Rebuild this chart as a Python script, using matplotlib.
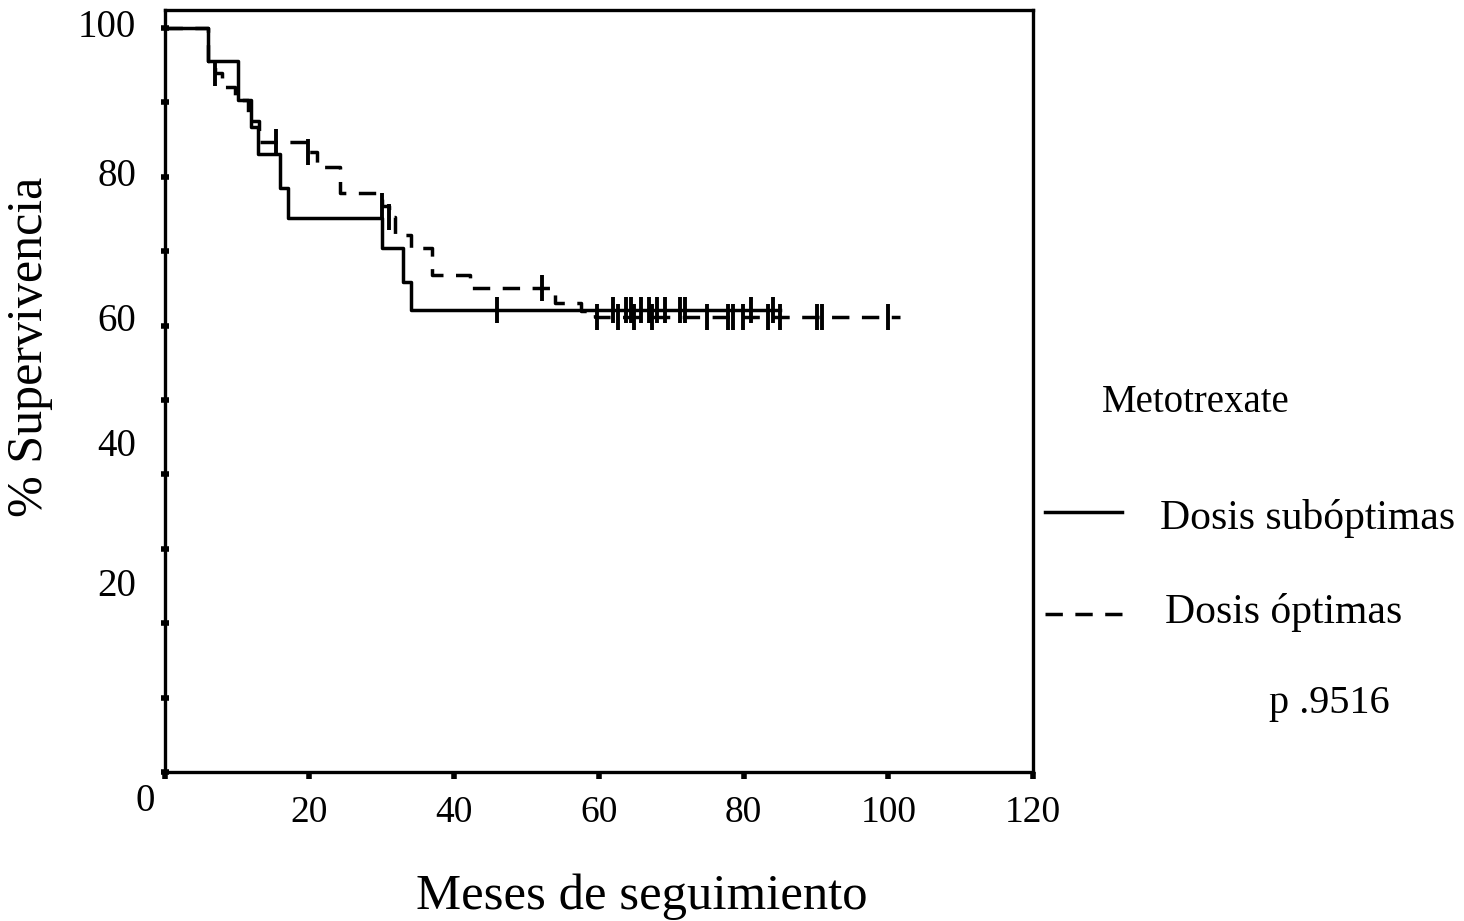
import numpy as np
import matplotlib
matplotlib.use("Agg")
import matplotlib.pyplot as plt
from matplotlib.lines import Line2D

plt.rcParams['font.family'] = ['Liberation Serif', 'DejaVu Serif']

# Kaplan-Meier steps (months, % survival)
sub_t = [0, 6.0, 10.2, 12.0, 12.9, 15.9, 17.1, 30.0, 33.0, 34.1, 85.0]
sub_s = [100, 95.5, 90.3, 86.7, 83.0, 78.5, 74.4, 70.4, 65.9, 62.1, 62.1]
sub_cens = [45.9, 62.0, 63.8, 64.5, 65.9, 66.9, 68.0, 69.1, 71.2, 71.9, 81.1, 84.1]

opt_t = [0, 6.0, 7.0, 8.0, 9.8, 11.5, 13.0, 19.8, 21.0, 24.2, 30.0, 31.0, 31.8,
         34.1, 36.9, 42.2, 53.9, 57.6, 59.5, 101.6]
opt_s = [100, 95.5, 94.0, 92.1, 90.3, 87.5, 84.7, 83.3, 81.3, 77.8, 76.0, 74.6, 72.2,
         70.4, 66.8, 65.0, 63.0, 62.0, 61.2, 61.2]
opt_cens = [7.0, 15.4, 19.8, 30.0, 31.0, 52.1, 59.7, 62.7, 64.9, 67.3, 74.9, 77.9,
            78.6, 79.9, 83.4, 85.0, 90.1, 90.8, 100.0]

ytick_labels = ['100', '80', '60', '40', '20']
ytick_label_pos = [100, 80, 60.5, 43.7, 24.9]
xticks = [0, 20, 40, 60, 80, 100, 120]


def level_at(t, s, x):
    i = np.searchsorted(t, x, side='right') - 1
    return np.array(s)[i]


fig = plt.figure(figsize=(14.64, 9.21), dpi=100)
ax = fig.add_axes([0.1124, 0.1618, 0.5932, 0.8273])

lw = 2.5
dash = (0, (5, 3.6))
ax.step(sub_t, sub_s, where='post', color='black', lw=lw)
ax.step(opt_t, opt_s, where='post', color='black', lw=lw, linestyle=dash)
ax.plot(sub_cens, level_at(sub_t, sub_s, sub_cens), ls='none', marker='|',
        ms=19, mew=2.8, color='black')
ax.plot(opt_cens, level_at(opt_t, opt_s, opt_cens), ls='none', marker='|',
        ms=19, mew=2.8, color='black')

ax.set_xlim(0, 120)
ax.set_ylim(0, 102.4)
for sp in ax.spines.values():
    sp.set_linewidth(2.4)

ax.set_xticks(xticks)
ax.set_xticklabels(['', '20', '40', '60', '80', '100', '120'], fontsize=27)
ax.tick_params(axis='x', direction='out', length=5, width=4, pad=12)
ax.set_yticks(np.arange(0, 101, 10))
ax.set_yticklabels([])
ax.tick_params(axis='y', direction='inout', length=6, width=4)

ytr = ax.get_yaxis_transform()
for lab, pos in zip(ytick_labels, ytick_label_pos):
    ax.text(-0.033, pos, lab, transform=ytr, ha='right', va='center', fontsize=28)
ax.text(-2.7, -3.9, '0', ha='center', va='center', fontsize=28)

fig.text(0.0205, 0.623, '% Supervivencia', rotation=90, ha='center', va='center',
         fontsize=36)
fig.text(0.4385, 0.026, 'Meses de seguimiento', ha='center', va='center', fontsize=36.5)

# legend drawn by hand, as in the original
fig.text(1196 / 1464, 1 - 403 / 921, 'Metotrexate', ha='center', va='center', fontsize=28)
fig.add_artist(Line2D([1045 / 1464, 1122 / 1464], [1 - 512 / 921] * 2,
                      color='black', lw=lw))
fig.text(1160 / 1464, 1 - 518 / 921, 'Dosis subóptimas', ha='left', va='center',
         fontsize=30)
fig.add_artist(Line2D([1045 / 1464, 1122 / 1464], [1 - 614 / 921] * 2,
                      color='black', lw=lw, linestyle=dash))
fig.text(1165 / 1464, 1 - 613 / 921, 'Dosis óptimas', ha='left', va='center',
         fontsize=30)
fig.text(1329 / 1464, 1 - 703 / 921, 'p .9516', ha='center', va='center', fontsize=29)

fig.savefig('out.png', dpi=100)
